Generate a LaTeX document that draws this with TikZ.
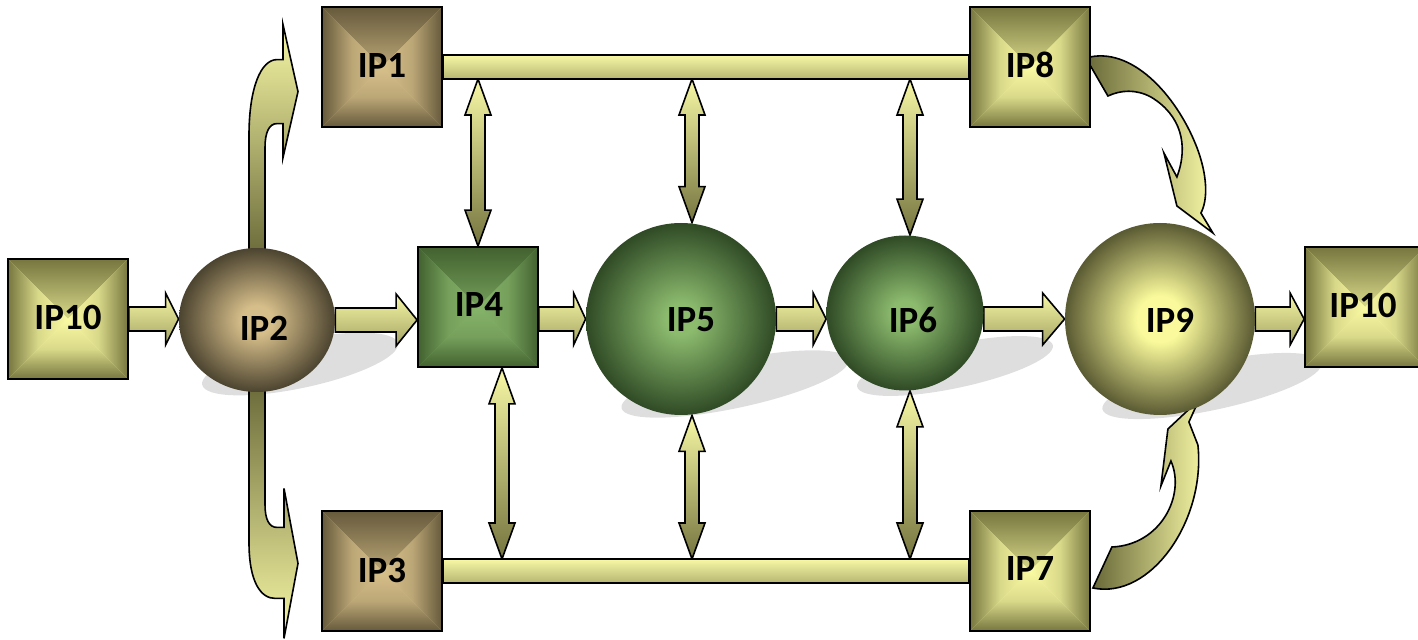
\documentclass[tikz,border=0pt]{standalone}
\usepackage{fontspec}
\setmainfont{Carlito}
\usetikzlibrary{shapes.geometric,calc}
\pgfdeclarelayer{shadowl}
\pgfdeclarelayer{bgl}
\pgfsetlayers{shadowl,bgl,main}
\definecolor{olD}{HTML}{76763F}
\definecolor{olL}{HTML}{FAFAA3}
\definecolor{tnD}{HTML}{665A3C}
\definecolor{tnL}{HTML}{D8C08A}
\definecolor{grD}{HTML}{42612F}
\definecolor{grL}{HTML}{86B46A}
\definecolor{btO}{HTML}{4C4430}
\definecolor{btI}{HTML}{D6BE8A}
\definecolor{bgO}{HTML}{2F4A25}
\definecolor{bgI}{HTML}{8CBB6E}
\definecolor{byO}{HTML}{5A5A33}
\definecolor{byI}{HTML}{FAFA9C}
\definecolor{arL}{HTML}{F8F8A6}
\definecolor{arD}{HTML}{74743F}
\definecolor{shd}{HTML}{DEDEDE}
\pgfdeclareradialshading{balltan}{\pgfpoint{0bp}{0bp}}{color(0bp)=(btI); color(5bp)=(btI); color(25bp)=(btO); color(50bp)=(btO)}
\pgfdeclareradialshading{ballgreen}{\pgfpoint{0bp}{0bp}}{color(0bp)=(bgI); color(4bp)=(bgI); color(25bp)=(bgO); color(50bp)=(bgO)}
\pgfdeclareradialshading{ballyellow}{\pgfpoint{0bp}{0bp}}{color(0bp)=(byI); color(6bp)=(byI); color(25bp)=(byO); color(50bp)=(byO)}
\tikzset{
  pbox/.style 2 args={draw=black, line width=0.9pt, minimum size=60pt, inner sep=0pt, fill=#2,
    path picture={
      \shade[top color=#1,bottom color=#2,middle color=#2!75!#1] (path picture bounding box.north west) -- (path picture bounding box.north east) -- (path picture bounding box.center) -- cycle;
      \shade[top color=#2,bottom color=#1,middle color=#2!75!#1] (path picture bounding box.south west) -- (path picture bounding box.south east) -- (path picture bounding box.center) -- cycle;
      \shade[left color=#1,right color=#2,middle color=#2!75!#1] (path picture bounding box.north west) -- (path picture bounding box.south west) -- (path picture bounding box.center) -- cycle;
      \shade[left color=#2,right color=#1,middle color=#2!75!#1] (path picture bounding box.north east) -- (path picture bounding box.south east) -- (path picture bounding box.center) -- cycle;
    }},
  ball/.style={ellipse, inner sep=0pt, shade, shading=#1},
  lbl/.style={inner sep=0pt, font=\bfseries\fontsize{18.5}{20}\selectfont},
  harrow/.style={draw=black, line width=0.8pt, top color=arL, bottom color=arD!65!arL},
  varrow/.style={draw=black, line width=0.8pt, top color=arL, bottom color=arD},
  barst/.style={draw=black, line width=0.8pt, top color=arL, bottom color=arD!50!arL},
  bentup/.style={draw=black, line width=0.8pt, top color=arL, bottom color=arD!90!black},
  bentdown/.style={draw=black, line width=0.8pt, top color=arD!90!black, bottom color=arL},
  curvest/.style={draw=black, line width=0.8pt, left color=arD!90!black, right color=arL},
  shadowst/.style={fill=shd},
}
\newcommand\harr[3]{\shadedraw[harrow] let \p1=(#1), \p2=(#2) in
  (\x1,\y1+6pt) -- (\x2-#3,\y1+6pt) -- (\x2-#3,\y1+13pt) -- (\x2,\y1) -- (\x2-#3,\y1-13pt) -- (\x2-#3,\y1-6pt) -- (\x1,\y1-6pt) -- cycle;}
\newcommand\varr[2]{\shadedraw[varrow] let \p1=(#1), \p2=(#2) in
  (\x1,\y1) -- (\x1+6.5pt,\y1-18pt) -- (\x1+3.5pt,\y1-18pt) -- (\x1+3.5pt,\y2+18pt) -- (\x1+6.5pt,\y2+18pt) -- (\x1,\y2) -- (\x1-6.5pt,\y2+18pt) -- (\x1-3.5pt,\y2+18pt) -- (\x1-3.5pt,\y1-18pt) -- (\x1-6.5pt,\y1-18pt) -- cycle;}
\newcommand\barlink[2]{\shadedraw[barst] let \p1=(#1), \p2=(#2) in
  (\x1,\y1+6pt) rectangle (\x2,\y1-6pt);}
\begin{document}
\begin{tikzpicture}[x=0.5pt,y=-0.5pt]
\useasboundingbox (0,0) rectangle (1418,640);
% boxes
\node[pbox={olD}{olL}] (ip10a) at (68,319) {};
\node[pbox={tnD}{tnL}] (ip1) at (382,67) {};
\node[pbox={tnD}{tnL}] (ip3) at (382,571) {};
\node[pbox={grD}{grL}] (ip4) at (478,307) {};
\node[pbox={olD}{olL}] (ip8) at (1030,67) {};
\node[pbox={olD}{olL}] (ip7) at (1030,571) {};
\node[pbox={olD}{olL}] (ip10b) at (1365,307) {};
% balls
\node[ball=balltan, minimum width=78pt, minimum height=72pt] (ip2) at (257,320) {};
\node[ball=ballgreen, minimum width=95pt, minimum height=96pt] (ip5) at (681,319) {};
\node[ball=ballgreen, minimum width=78.5pt, minimum height=77.5pt] (ip6) at (905,313) {};
\node[ball=ballyellow, minimum width=95pt, minimum height=96pt] (ip9) at (1160,319) {};
% labels
\node[lbl] (t10a) at (68,317) {IP10};
\node[lbl] (t1) at (382,65) {IP1};
\node[lbl] (t3) at (382,570) {IP3};
\node[lbl] (t2) at (264,328) {IP2};
\node[lbl] (t4) at (479,304) {IP4};
\node[lbl] (t5) at (691,320) {IP5};
\node[lbl] (t6) at (913,320) {IP6};
\node[lbl] (t8) at (1030,65) {IP8};
\node[lbl] (t7) at (1030,569) {IP7};
\node[lbl] (t9) at (1170,320) {IP9};
\node[lbl] (t10b) at (1363,305) {IP10};
% free ends of the double arrows
\coordinate (u4) at (478,79);
\coordinate (u5) at (692,79);
\coordinate (u6) at (910,79);
\coordinate (d4) at (502,559);
\coordinate (d5) at (692,559);
\coordinate (d6) at (910,559);
\begin{pgfonlayer}{shadowl}
\fill[shadowst, rotate around={12:(300,364)}] (300,364) ellipse [x radius=50pt, y radius=12pt];
\fill[shadowst, rotate around={12:(735,384)}] (735,384) ellipse [x radius=58pt, y radius=12pt];
\fill[shadowst, rotate around={12:(955,366)}] (955,366) ellipse [x radius=50pt, y radius=11pt];
\fill[shadowst, rotate around={12:(1212,386)}] (1212,386) ellipse [x radius=56pt, y radius=12pt];
\end{pgfonlayer}
\begin{pgfonlayer}{bgl}
% straight block arrows
\harr{ip10a.east}{ip2.west}{6.5pt}
\harr{ip2.east}{ip4.west}{10.5pt}
\harr{ip4.east |- ip5.west}{ip5.west}{6pt}
\harr{ip5.east}{ip6.west}{6.5pt}
\harr{ip6.east |- ip9.west}{ip9.west}{11pt}
\harr{ip9.east}{ip10b.west}{7pt}
% double arrows
\varr{u4}{u4 |- ip4.north}
\varr{u5}{u5 |- ip5.north}
\varr{u6}{u6 |- ip6.north}
\varr{d4 |- ip4.south}{d4}
\varr{d5 |- ip5.south}{d5}
\varr{d6 |- ip6.south}{d6}
% bars
\barlink{ip1.east}{ip8.west}
\barlink{ip3.east}{ip7.west}
% bent arrows out of IP2
\begin{scope}[shift={(ip2.north)}]
\shadedraw[bentup] (-8,12) -- (-8,-112) .. controls (-8,-160) and (4,-188) .. (20,-188) -- (26,-188) -- (26,-223) -- (41,-156) -- (26,-90) -- (26,-124) -- (20,-124) .. controls (12,-124) and (8,-115) .. (8,-100) -- (8,12) -- cycle;
\end{scope}
\begin{scope}[shift={(ip2.south)}]
\shadedraw[bentdown] (-8,-12) -- (-8,150) .. controls (-8,190) and (4,206) .. (18,206) -- (27,206) -- (27,246) -- (41,171) -- (27,96) -- (27,135) -- (20,135) .. controls (12,135) and (8,127) .. (8,112) -- (8,-12) -- cycle;
\end{scope}
% curved arrows into IP9
\begin{scope}[shift={(ip8.east)}]
\shadedraw[curvest] (-5,-9) .. controls (40,-22) and (85,28) .. (105,78) .. controls (117,108) and (117,133) .. (110,146) -- (122,166) -- (86,139) -- (73,86) -- (86,110) .. controls (98,78) and (90,48) .. (60,30) .. controls (45,22) and (30,23) .. (17,29) -- cycle;
\end{scope}
\begin{scope}[shift={(ip7.east)}]
\shadedraw[curvest] (2,17) .. controls (60,29) and (115,-51) .. (107,-126) -- (98,-149) -- (108,-171) -- (77,-142) -- (70,-85) -- (80,-110) .. controls (95,-76) and (70,-26) .. (21,-24) -- cycle;
\end{scope}
\end{pgfonlayer}
\end{tikzpicture}
\end{document}
